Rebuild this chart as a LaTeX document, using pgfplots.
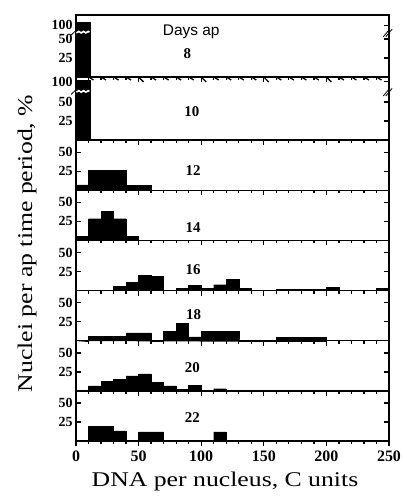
\documentclass[border=0pt]{standalone}
\usepackage{fontspec}
\setmainfont{Liberation Serif}
\newfontfamily\sansf{Liberation Sans}
\newfontfamily\widef[FakeStretch=1.23]{Liberation Serif}
\usepackage{pgfplots}
\pgfplotsset{compat=1.18}
\pgfplotsset{panel/.style={
  scale only axis, width=313bp, xmin=0, xmax=250, ymin=0,
  axis line style={line width=1.2bp},
  xtick={0,50,100,150,200,250}, minor x tick num=4,
  xtick pos=right,
  xticklabels={},
  ytick={25,50},
  major tick length=5bp, minor tick length=3bp,
  tick style={black, line width=1.3bp},
  /pgf/number format/assume math mode=true,
  yticklabel style={font=\fontsize{14}{14}\selectfont\bfseries},
  clip=false,
  anchor=south west,
}}
\tikzset{bars/.style={const plot, fill=black, draw=black, line width=0.4bp},
day/.style={font=\fontsize{15}{15}\selectfont\bfseries},
tk/.style={black, line width=1.3bp}}
\newcommand\topticks[1]{%
 \pgfplotsinvokeforeach{50,100,150,200}{\draw[tk] (axis cs:##1,#1) -- ++(0,-5bp);}%
 \pgfplotsinvokeforeach{10,20,30,40,60,70,80,90,110,120,130,140,160,170,180,190,210,220,230,240}{\draw[tk] (axis cs:##1,#1) -- ++(0,-3bp);}%
}
\newcommand\sideticks[1]{%
 \pgfplotsinvokeforeach{#1}{\draw[tk] (axis cs:0,##1) -- ++(5bp,0); \draw[tk] (axis cs:250,##1) -- ++(-5bp,0);}%
}
\begin{document}
\begin{tikzpicture}
\path[use as bounding box] (0,0) rectangle (403bp,501bp);
% Panel 8
\begin{axis}[panel, at={(76bp,424bp)}, height=62bp, ymax=81.6, xtick=\empty, minor x tick num=0, ytick={25,50,68}, yticklabels={25,50,100}]
\addplot[bars] coordinates {(0,72) (11,72)} \closedcycle;
\addplot[sharp plot, black!0, line width=1.6bp] coordinates {(0.3,58) (2.2,60) (4.1,58) (6,60) (7.9,58) (9.8,60) (10.7,59)};
\addplot[sharp plot, black, line width=0.8bp] coordinates {(-4,55) (0.5,62)};
\addplot[sharp plot, black, line width=0.8bp] coordinates {(245.5,53) (250.5,63)};
\addplot[sharp plot, black, line width=0.8bp] coordinates {(247.5,53) (252.5,63)};
\sideticks{25,50,68}
\node[font=\sansf\fontsize{15.5}{16}\selectfont] at (axis cs:92,59) {Days ap};
\node[day] at (axis cs:89,31) {8};
\end{axis}
% Panel 10
\begin{axis}[panel, at={(76bp,361bp)}, height=63bp, ymax=83, ytick={25,50,77}, yticklabels={25,50,100}]
\addplot[bars] coordinates {(0,79) (11,79)} \closedcycle;
\addplot[sharp plot, black!0, line width=1.6bp] coordinates {(0.3,63) (2.2,65) (4.1,63) (6,65) (7.9,63) (9.8,65) (10.7,64)};
\addplot[sharp plot, black, line width=0.8bp] coordinates {(-4,60) (0.5,67)};
\addplot[sharp plot, black, line width=0.8bp] coordinates {(245.5,58) (250.5,68)};
\addplot[sharp plot, black, line width=0.8bp] coordinates {(247.5,58) (252.5,68)};
\topticks{83}
\sideticks{25,50,77}
\node[day] at (axis cs:92.5,37) {10};
\end{axis}
% Panel 12
\begin{axis}[panel, at={(76bp,310.8bp)}, height=50.2bp, ymax=66]
\addplot[bars] coordinates {(0,7) (10,26.5) (40,6.5) (60,6.5)} \closedcycle;
\topticks{66}
\sideticks{25,50}
\node[day] at (axis cs:93.5,26) {12};
\end{axis}
% Panel 14
\begin{axis}[panel, at={(76bp,260.6bp)}, height=50.2bp, ymax=66]
\addplot[bars] coordinates {(0,5.6) (10,28.5) (20,38) (30,28.5) (40,5.6) (50,5.6)} \closedcycle;
\topticks{66}
\sideticks{25,50}
\node[day] at (axis cs:93.5,17.5) {14};
\end{axis}
% Panel 16
\begin{axis}[panel, at={(76bp,210.4bp)}, height=50.2bp, ymax=66]
\addplot[bars] coordinates {(0,0) (30,6) (40,11) (50,20) (60,18.7) (70,0) (80,3) (90,6.8) (100,3) (110,7.7) (120,14.5) (130,2.5) (140,0) (160,2) (200,4.5) (210,0) (240,3.4) (250,3.4)} \closedcycle;
\topticks{66}
\sideticks{25,50}
\node[day] at (axis cs:93.5,28) {16};
\end{axis}
% Panel 18
\begin{axis}[panel, at={(76bp,160.2bp)}, height=50.2bp, ymax=66]
\addplot[bars] coordinates {(0,0) (10,6) (40,10.5) (60,0) (70,12.5) (80,22.5) (90,5) (100,12) (130,0) (160,4.5) (200,4.5)} \closedcycle;
\topticks{66}
\sideticks{25,50}
\node[day] at (axis cs:94,34.6) {18};
\end{axis}
% Panel 20
\begin{axis}[panel, at={(76bp,110bp)}, height=50.2bp, ymax=66]
\addplot[bars] coordinates {(0,0) (10,6.6) (20,12.3) (30,15.3) (40,20) (50,22.4) (60,11.4) (70,6.6) (80,2.6) (90,7) (100,0) (110,3) (120,3)} \closedcycle;
\topticks{66}
\sideticks{25,50}
\node[day] at (axis cs:93,30.5) {20};
\end{axis}
% Panel 22
\begin{axis}[panel, at={(76bp,60bp)}, height=50bp, ymax=66]
\addplot[bars] coordinates {(0,0) (10,19.4) (30,13.4) (40,0) (50,12) (70,0) (110,12) (120,12)} \closedcycle;
\topticks{66}
\sideticks{25,50}
\pgfplotsinvokeforeach{0,50,100,150,200,250}{\draw[tk] (axis cs:#1,0) -- ++(0,-5bp);}
\pgfplotsinvokeforeach{10,20,30,40,60,70,80,90,110,120,130,140,160,170,180,190,210,220,230,240}{\draw[tk] (axis cs:#1,0) -- ++(0,-3bp);}
\node[day] at (axis cs:93,31.3) {22};
\end{axis}
% bottom outward ticks and labels
\begin{axis}[scale only axis, width=313bp, height=50bp, at={(76bp,60bp)}, anchor=south west,
  xmin=0, xmax=250, ymin=0, ymax=66, ytick=\empty,
  axis line style={line width=1.2bp},
  xtick={0,50,100,150,200,250}, minor x tick num=4,
  tick align=outside, xtick pos=left,
  major tick length=5bp, minor tick length=3bp,
  tick style={black, line width=1.3bp},
  /pgf/number format/assume math mode=true,
  xticklabels={0,50,100,150,200,250},
  xticklabel style={font=\fontsize{16}{16}\selectfont\bfseries, yshift=-1bp}]
\end{axis}
\node[anchor=base, rotate=90] at (32bp,257.5bp) {\widef\fontsize{21}{24}\selectfont Nuclei per ap time period, \%};
\node[anchor=base] at (225bp,14.5bp) {\widef\fontsize{21}{24}\selectfont DNA per nucleus, C units};
\end{tikzpicture}
\end{document}
